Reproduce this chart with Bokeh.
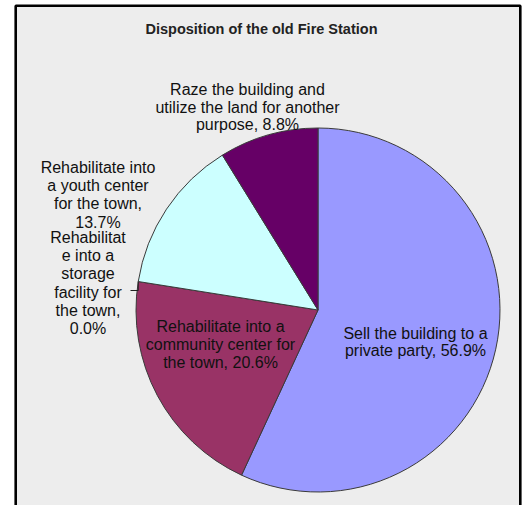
import numpy as np
from bokeh.plotting import figure
from bokeh.models import Range1d, ColumnDataSource
from bokeh.core.properties import value
from bokeh.embed import file_html
from bokeh.resources import INLINE

# ---------------- data ----------------
title = "Disposition of the old Fire Station"
categories = [
    "Sell the building to a private party",
    "Rehabilitate into a community center for the town",
    "Rehabilitate into a storage facility for the town",
    "Rehabilitate into a youth center for the town",
    "Raze the building and utilize the land for another purpose",
]
percent = [56.9, 20.6, 0.0, 13.7, 8.8]
# wrapped label text as shown on the chart ({p} = percentage)
label_templates = [
    "Sell the building to a\nprivate party, {p}",
    "Rehabilitate into a\ncommunity center for\nthe town, {p}",
    "Rehabilitat\ne into a\nstorage\nfacility for\nthe town,\n{p}",
    "Rehabilitate into\na youth center\nfor the town,\n{p}",
    "Raze the building and\nutilize the land for another\npurpose, {p}",
]
colors = ["#9999FF", "#993366", "#FFFFCC", "#CCFFFF", "#660066"]

# ---------------- layout ----------------
W, H = 524, 505
def Y(s):  # screen y -> data y
    return H - s

CX, CY, R = 317.5, 309.5, 182.0
# (center x, first baseline y, line height) in screen pixels
label_pos = [
    (415.0, 332.5, 17.8),
    (220.0, 325.8, 18.0),
    (87.5, 236.8, 18.3),
    (97.5, 166.6, 18.3),
    (247.0, 89.0, 17.6),
]

p = figure(width=W, height=H, output_backend="svg", toolbar_location=None,
           x_range=Range1d(0, W), y_range=Range1d(0, H),
           x_axis_type=None, y_axis_type=None, min_border=0,
           background_fill_color="white", border_fill_color="white")
p.grid.visible = False
p.outline_line_color = None

# chart area frame
p.quad(left=15.2, right=519.8, top=Y(5.2), bottom=Y(530),
       fill_color="#EDEDED", line_color="#000000", line_width=2.6)

# wedges
vals = np.array(percent, dtype=float)
frac = vals / vals.sum()
cum = np.concatenate([[0.0], np.cumsum(frac)])
start = np.pi / 2 - 2 * np.pi * cum[:-1]
end = np.pi / 2 - 2 * np.pi * cum[1:]
keep = vals > 0
src = ColumnDataSource(dict(
    start=start[keep], end=end[keep],
    color=[c for c, k in zip(colors, keep) if k],
    cat=[c for c, k in zip(categories, keep) if k],
))
p.wedge(x=CX, y=Y(CY), radius=R, start_angle="start", end_angle="end",
        direction="clock", fill_color="color", line_color="#3a3a3a",
        line_width=1, source=src)

# leader line for the zero slice
i0 = categories.index("Rehabilitate into a storage facility for the town")
th = 2 * np.pi * cum[i0]
ex = CX + R * np.sin(th)
ey = Y(CY) + R * np.cos(th)
p.line(x=[130.0, ex, ex], y=[Y(290.0), Y(290.0), ey],
       line_color="#222222", line_width=1)

# labels
xs, ys, ts = [], [], []
for tmpl, v, (lx, ly, lh) in zip(label_templates, percent, label_pos):
    lines = tmpl.format(p=f"{v:.1f}%").split("\n")
    for k, ln in enumerate(lines):
        xs.append(lx)
        ys.append(Y(ly + k * lh))
        ts.append(ln)
p.text(x=xs, y=ys, text=ts, text_align="center", text_baseline="alphabetic",
       text_font=value("Liberation Sans"), text_font_size="16px",
       text_color="#111111")

# title
p.text(x=[261.0], y=[Y(28.0)], text=[title], text_align="center",
       text_baseline="alphabetic", text_font=value("Liberation Sans"),
       text_font_size="14.5px", text_font_style="bold", text_color="#222222")

open("out.html", "w").write(file_html(p, INLINE))
